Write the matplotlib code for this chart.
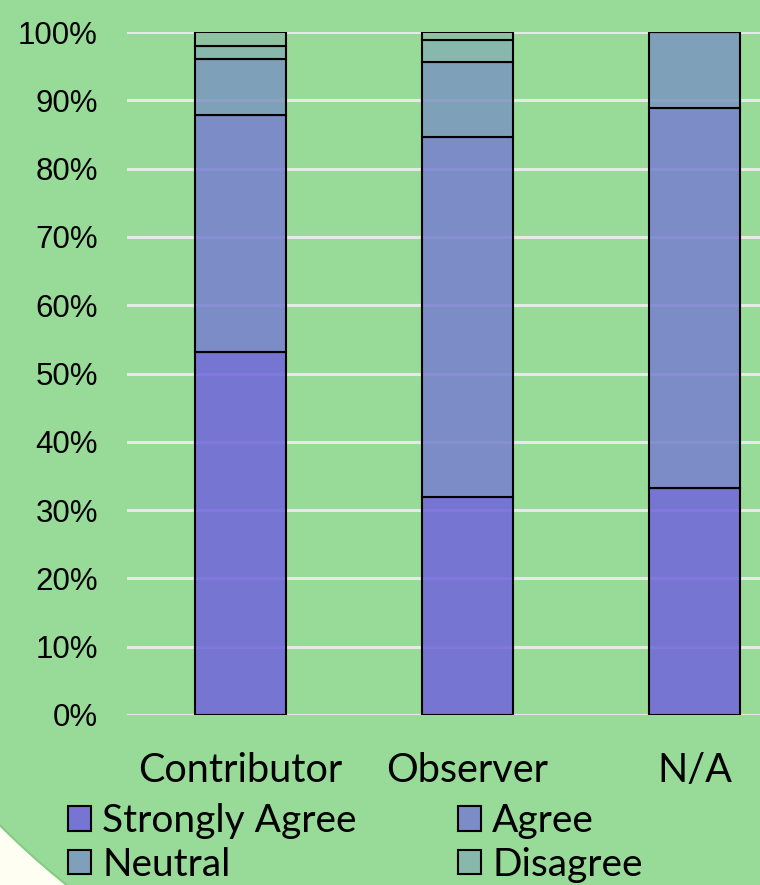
import matplotlib
matplotlib.use("Agg")
import matplotlib.pyplot as plt
from matplotlib.patches import Patch, Circle, Rectangle
from matplotlib.transforms import IdentityTransform
from matplotlib.ticker import FuncFormatter

groups = ["Contributor", "Observer", "N/A"]
responses = ["Strongly Agree", "Agree", "Neutral", "Disagree", "Strongly Disagree"]

# percent of each group giving each response
strongly_agree = [53.1, 31.9, 33.3]
agree = [34.7, 52.7, 55.6]
neutral = [8.2, 11.0, 11.1]
disagree = [2.0, 3.3, 0.0]
strongly_disagree = [2.0, 1.1, 0.0]

yticks = [0, 10, 20, 30, 40, 50, 60, 70, 80, 90, 100]

series = [strongly_agree, agree, neutral, disagree, strongly_disagree]
colors = [(112, 100, 220), (118, 127, 208), (123, 150, 191), (134, 177, 176), (140, 193, 161)]
colors = [(r / 255, g / 255, b / 255, 0.85) for r, g, b in colors]

green = "#98da98"
cream = "#fffef2"
W, H = 760, 885

fig = plt.figure(figsize=(W / 100, H / 100), dpi=100)
fig.patch.set_facecolor(cream)

# green panel with a big rounded lower-left corner (pixels, origin bottom-left)
cx, cy, r = 566, 625, 800
px = IdentityTransform()
fig.patches.append(Circle((cx, cy), r, transform=px, facecolor=green,
                          edgecolor="#84cc84", linewidth=1.5, zorder=-3))
fig.patches.append(Rectangle((cx, -10), W, H + 20, transform=px, facecolor=green,
                             edgecolor="none", zorder=-2))
fig.patches.append(Rectangle((-10, cy), W + 20, H, transform=px, facecolor=green,
                             edgecolor="none", zorder=-2))

ax = fig.add_axes([127 / W, (H - 715) / H, 681 / W, 683 / H])
ax.set_facecolor("none")

x = range(len(groups))
bottom = [0.0] * len(groups)
for vals, col in zip(series, colors):
    ax.bar(x, vals, width=0.4, bottom=bottom, facecolor=col, edgecolor="black",
           linewidth=1.5, zorder=2)
    bottom = [b + v for b, v in zip(bottom, vals)]

ax.set_xlim(-0.5, 2.5)
ax.set_ylim(0, 100)
ax.set_yticks(yticks)
ax.yaxis.set_major_formatter(FuncFormatter(lambda v, p: "%d%%" % v))
ax.yaxis.grid(True, color="#e6e9e6", linewidth=2.2, zorder=1)
ax.set_axisbelow(True)
for s in ax.spines.values():
    s.set_visible(False)
ax.tick_params(axis="y", length=0, pad=21, labelsize=22.5)
ax.tick_params(axis="x", length=0, pad=27)
for lab in ax.get_yticklabels():
    lab.set_fontfamily("Liberation Sans")
ax.set_xticks(list(x))
ax.set_xticklabels(groups, fontfamily="Lato", fontsize=28.5)

# legend filled row by row, two columns; the third row falls below the picture
handles = [Patch(facecolor=c, edgecolor="black", linewidth=1.5) for c in colors]
order = [0, 2, 1, 3]
fig.legend([handles[i] for i in order], [responses[i] for i in order],
           loc="upper left", bbox_to_anchor=(68 / W, (H - 803) / H), ncol=2,
           frameon=False, prop={"family": "Lato", "size": 28},
           handlelength=0.6, handleheight=0.6, handletextpad=0.28,
           columnspacing=2.6, labelspacing=0.2, borderaxespad=0, borderpad=0)

fig.savefig("out.png", dpi=100, facecolor=fig.get_facecolor())
